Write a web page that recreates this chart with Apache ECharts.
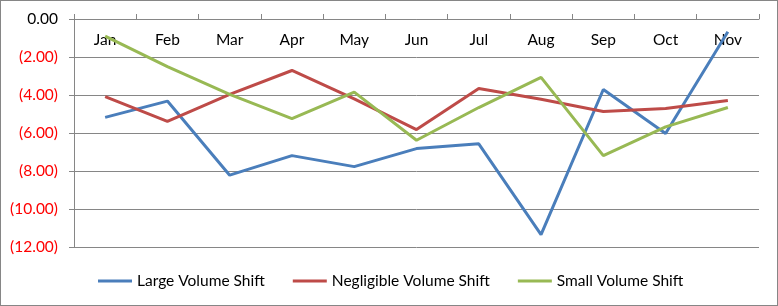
<!DOCTYPE html>
<html>
<head>
<meta charset="utf-8">
<script src="https://cdn.jsdelivr.net/npm/echarts@6/dist/echarts.min.js"></script>
<style>
html,body{margin:0;padding:0;background:#fff;}
#c{width:778px;height:306px;box-sizing:border-box;border:1px solid #868686;}
</style>
</head>
<body>
<div id="c"></div>
<script>
const categories = ['Jan','Feb','Mar','Apr','May','Jun','Jul','Aug','Sep','Oct','Nov'];
const largeShift = [-5.18,-4.32,-8.22,-7.19,-7.77,-6.82,-6.57,-11.35,-3.71,-6.03,-0.67];
const negligibleShift = [-4.09,-5.39,-3.97,-2.71,-4.2,-5.82,-3.66,-4.22,-4.87,-4.71,-4.29];
const smallShift = [-0.9,-2.51,-3.97,-5.24,-3.85,-6.38,-4.66,-3.07,-7.19,-5.68,-4.66];
const seriesNames = ['Large Volume Shift','Negligible Volume Shift','Small Volume Shift'];
const colors = ['#4A7EBB','#BE4B48','#98B954'];

const chart = echarts.init(document.getElementById('c'));
const font = 'Lato, "Liberation Sans", sans-serif';
const mk = (name, data, i) => ({
  name, type:'line', data, symbol:'none', smooth:false,
  lineStyle:{width:3, color:colors[i]}, itemStyle:{color:colors[i]}
});
chart.setOption({
  animation:false,
  grid:{left:73, top:18, right:18, bottom:58, containLabel:false},
  legend:{
    data:seriesNames, left:92, top:267, icon:'rect', itemWidth:34, itemHeight:3,
    itemGap:28, textStyle:{fontFamily:font, fontSize:15.5, color:'#000'}
  },
  xAxis:{
    type:'category', data:categories, position:'top', boundaryGap:true,
    axisLine:{lineStyle:{color:'#868686', width:1}},
    axisTick:{show:true, inside:false, length:5, lineStyle:{color:'#868686'}},
    axisLabel:{inside:true, margin:13, fontFamily:font, fontSize:15.5, color:'#000'}
  },
  yAxis:{
    type:'value', min:-12, max:0, interval:2,
    axisLine:{show:true, lineStyle:{color:'#868686'}},
    axisTick:{show:true, length:5, lineStyle:{color:'#868686'}},
    splitLine:{show:true, lineStyle:{color:'#868686', width:1}},
    axisLabel:{
      margin:16, fontFamily:font, fontSize:15.5,
      formatter:v => v < 0 ? '(' + Math.abs(v).toFixed(2) + ')' : v.toFixed(2),
      color:v => (v < 0 ? '#FF0000' : '#000')
    }
  },
  series:[
    mk(seriesNames[0], largeShift, 0),
    mk(seriesNames[1], negligibleShift, 1),
    mk(seriesNames[2], smallShift, 2)
  ]
});
</script>
</body>
</html>
